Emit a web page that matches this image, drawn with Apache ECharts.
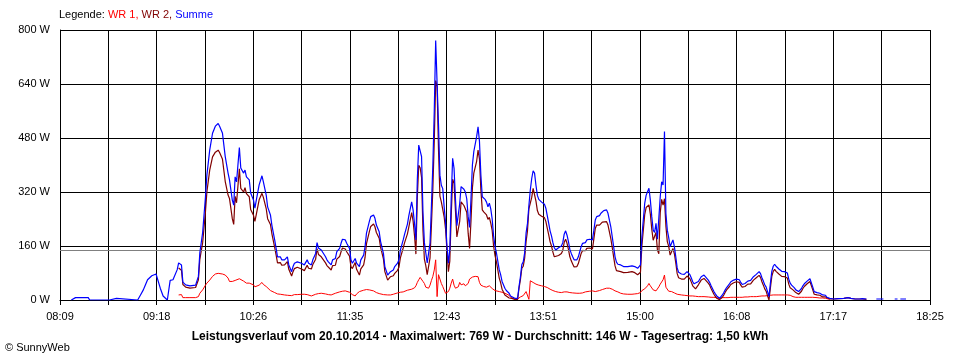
<!DOCTYPE html>
<html><head><meta charset="utf-8">
<script src="https://cdn.jsdelivr.net/npm/echarts@6/dist/echarts.min.js"></script>
<style>html,body{margin:0;padding:0;background:#fff}#c{width:960px;height:360px}</style>
</head><body><div id="c"></div>
<script>
const tickLabels = ['08:09','09:18','10:26','11:35','12:43','13:51','15:00','16:08','17:17','18:25'];
const seriesNames = ['WR 1','WR 2','Summe'];
const legendTitle = 'Legende:';
const footerTitle = 'Leistungsverlauf vom 20.10.2014 - Maximalwert: 769 W - Durchschnitt: 146 W - Tagesertrag: 1,50 kWh';
const copyright = '\u00A9 SunnyWeb';
const averageW = 146;

const earlyTimes = ['08:17','08:20','08:29','08:30','08:44','08:45','08:49','08:50','09:04','09:06',
  '09:08','09:09','09:11','09:14','09:17','09:18','09:20','09:22','09:25','09:26',
  '09:27','09:29','09:30','09:32'];
const earlySumme = [0,7,7,0,0,5,5,0,0,15, 30,40,60,72,77,75,35,12,0,0, 58,60,62,90];

const times = [
 '09:33','09:35','09:36','09:38','09:41','09:45','09:47','09:48','09:50','09:52',
 '09:53','09:55','09:57','09:59','10:01','10:02','10:04','10:06','10:08','10:09',
 '10:11','10:12','10:13','10:14','10:16','10:17','10:19','10:20','10:21','10:23',
 '10:24','10:26','10:27','10:28','10:30','10:32','10:33','10:35','10:36','10:38',
 '10:39','10:41','10:42','10:43','10:45','10:46','10:48','10:50','10:51','10:53',
 '10:54','10:55','10:57','10:58','11:00','11:02','11:04','11:05','11:07','11:08',
 '11:10','11:11','11:12','11:14','11:15','11:17','11:18','11:19','11:21','11:22',
 '11:24','11:25','11:27','11:28','11:29','11:31','11:32','11:34','11:35','11:36',
 '11:38','11:39','11:41','11:42','11:44','11:45','11:46','11:48','11:49','11:51',
 '11:52','11:53','11:55','11:56','11:58','11:59','12:01','12:02','12:03','12:05',
 '12:06','12:08','12:09','12:10','12:12','12:13','12:15','12:16','12:18','12:19',
 '12:20','12:21','12:22','12:23','12:24','12:25','12:26','12:27','12:28','12:29',
 '12:30','12:31','12:32','12:33','12:34','12:35','12:36','12:37','12:38','12:39',
 '12:40','12:41','12:42','12:43','12:44','12:45','12:46','12:47','12:48','12:49',
 '12:50','12:51','12:52','12:53','12:54','12:55','12:56','12:57','12:58','12:59',
 '13:00','13:01','13:02','13:03','13:04','13:05','13:06','13:07','13:08','13:09',
 '13:10','13:11','13:12','13:13','13:14','13:15','13:16','13:17','13:18','13:20',
 '13:21','13:22','13:24','13:25','13:27','13:28','13:29','13:31','13:33','13:34',
 '13:35','13:36','13:37','13:38','13:39','13:40','13:41','13:42','13:43','13:44',
 '13:45','13:46','13:47','13:48','13:49','13:50','13:51','13:52','13:53','13:54',
 '13:55','13:56','13:57','13:58','13:59','14:00','14:02','14:04','14:05','14:06',
 '14:07','14:08','14:09','14:10','14:11','14:12','14:13','14:15','14:16','14:17',
 '14:18','14:19','14:21','14:22','14:24','14:26','14:27','14:28','14:29','14:31',
 '14:32','14:33','14:34','14:36','14:37','14:38','14:39','14:40','14:41','14:42',
 '14:43','14:44','14:46','14:48','14:51','14:54','14:56','14:58','15:00','15:01',
 '15:02','15:03','15:04','15:05','15:06','15:07','15:08','15:09','15:10','15:11',
 '15:12','15:13','15:14','15:15','15:16','15:17','15:18','15:19','15:20','15:21',
 '15:22','15:23','15:24','15:25','15:26','15:27','15:29','15:31','15:32','15:33',
 '15:35','15:36','15:37','15:38','15:39','15:41','15:43','15:45','15:46','15:48',
 '15:49','15:50','15:52','15:53','15:54','15:56','15:57','15:58','15:59','16:00',
 '16:01','16:02','16:03','16:04','16:05','16:06','16:08','16:09','16:10','16:11',
 '16:12','16:13','16:14','16:16','16:18','16:20','16:22','16:24','16:25','16:26',
 '16:27','16:28','16:29','16:30','16:31','16:32','16:33','16:34','16:35','16:36',
 '16:38','16:40','16:42','16:44','16:45','16:46','16:47','16:48','16:49','16:50',
 '16:52','16:53','16:54','16:55','16:56','16:58','16:59','17:00','17:01','17:02',
 '17:03','17:05','17:06','17:07','17:08','17:09','17:11','17:12','17:14'];

const summe = [
 110,104,53,45,42,44,70,140,200,306,
 370,444,494,515,523,515,495,425,376,356,
 296,281,365,350,452,391,376,385,365,356,
 317,296,272,296,341,368,350,311,276,252,
 222,178,154,128,128,119,119,128,104,84,
 99,109,113,109,109,104,119,109,104,119,
 138,170,154,148,143,128,119,113,104,119,
 123,143,153,168,180,178,168,153,119,109,
 123,109,99,119,133,158,198,232,247,252,
 242,222,202,173,138,99,74,79,84,89,
 99,109,119,148,178,195,225,250,291,267,
 227,178,356,459,459,425,260,170,140,110,
 105,169,280,400,560,769,642,520,370,340,
 330,276,230,160,109,150,300,420,390,300,
 220,225,285,336,336,328,320,300,247,215,
 300,400,440,444,484,513,470,370,306,301,
 298,290,276,287,270,240,190,160,140,90,
 75,55,35,28,20,12,10,5,5,40,
 69,105,113,140,198,227,280,326,360,383,
 376,340,310,298,293,290,286,284,272,250,
 228,205,190,170,155,148,155,160,170,195,
 205,192,173,150,138,128,119,119,128,143,
 158,168,170,178,180,178,207,237,247,250,
 257,262,265,267,257,237,217,188,158,128,
 112,106,104,99,99,101,99,94,104,188,
 237,286,310,321,331,296,247,207,200,227,
 180,176,306,350,341,499,257,207,185,158,
 168,178,158,128,95,82,77,76,80,84,
 75,65,54,48,44,55,69,74,70,59,
 52,42,25,18,12,5,8,15,22,30,
 37,42,48,54,58,59,62,64,60,52,
 46,44,49,56,58,69,76,84,78,66,
 56,45,38,25,10,50,85,100,106,100,
 92,85,84,80,62,50,44,40,36,30,
 25,28,34,42,48,56,60,63,60,38,
 25,22,25,20,18,15,14,8,5];

const wr1 = [
 15,16,7,7,7,7,10,20,30,44,
 50,59,70,77,79,78,77,74,65,55,
 55,57,58,62,63,60,56,52,50,50,
 49,45,39,42,44,52,46,40,35,28,
 25,22,20,18,17,16,15,14,13,13,
 15,16,16,17,17,17,16,15,12,14,
 17,18,19,20,19,18,17,16,15,17,
 20,22,24,25,26,27,25,23,20,16,
 12,18,25,27,29,32,31,30,29,27,
 25,22,19,17,16,15,15,15,15,17,
 20,21,22,23,24,25,29,33,32,33,
 36,42,52,60,67,62,55,49,38,35,
 35,44,58,70,89,119,10,75,62,49,
 40,30,20,15,25,35,50,62,44,35,
 33,39,52,45,40,48,42,40,49,62,
 66,68,64,70,73,69,52,44,39,40,
 40,38,37,42,42,34,30,28,27,25,
 24,23,20,18,14,8,5,3,3,6,
 9,11,13,16,25,22,2,57,56,52,
 49,47,45,44,43,42,41,40,39,37,
 34,32,30,28,27,25,23,22,23,24,
 25,24,23,22,22,21,21,20,20,20,
 20,21,24,25,26,27,26,25,25,28,
 30,31,33,35,35,35,35,32,30,27,
 25,24,20,18,17,17,18,19,22,28,
 31,33,36,42,49,42,37,30,28,27,
 32,39,47,52,60,74,38,34,26,25,
 25,25,21,18,17,16,15,14,14,13,
 12,12,12,11,11,10,10,10,9,9,
 8,8,8,7,7,4,5,7,7,7,
 7,7,8,8,8,8,8,8,8,8,
 8,8,9,9,10,10,10,11,11,12,
 12,12,12,13,10,14,15,15,15,15,
 15,15,15,15,15,14,12,10,9,8,
 8,8,8,8,8,8,8,8,8,8,
 8,7,7,6,6,6,5,4,2];

const wr2 = [
 95,88,46,38,35,37,60,120,170,262,
 320,385,424,438,444,437,418,351,311,301,
 241,224,307,288,389,331,320,333,315,306,
 268,251,233,254,297,316,304,271,241,224,
 197,156,134,110,111,103,104,114,91,71,
 84,93,97,92,92,87,103,94,92,105,
 121,152,135,128,124,110,102,97,89,102,
 103,121,129,143,154,151,143,130,99,93,
 111,91,74,92,104,126,167,202,218,225,
 217,200,183,156,122,84,59,64,69,72,
 79,88,97,125,154,170,196,217,259,234,
 191,136,304,399,392,363,205,121,102,75,
 70,125,222,330,471,650,632,445,308,291,
 290,246,210,145,84,115,250,358,346,265,
 187,186,233,291,296,280,278,260,198,153,
 234,332,376,374,411,444,418,326,267,261,
 258,252,239,245,228,206,160,132,113,65,
 51,32,15,10,6,4,5,2,2,34,
 60,94,100,124,173,205,270,269,304,331,
 327,293,265,254,250,248,245,244,233,213,
 194,173,160,142,128,123,132,138,147,171,
 180,168,150,128,116,107,98,99,108,123,
 138,147,146,153,154,151,181,212,222,222,
 227,231,232,232,222,202,182,156,128,101,
 87,82,84,81,82,84,81,75,82,160,
 206,253,274,279,282,254,210,177,172,200,
 148,137,259,298,281,300,219,173,159,133,
 143,153,137,110,78,66,62,62,66,71,
 63,53,42,37,33,45,59,64,61,50,
 44,34,17,11,5,1,3,8,15,23,
 30,35,40,46,50,51,54,56,52,44,
 38,36,40,47,48,59,66,73,67,54,
 44,33,26,12,0,36,70,85,91,85,
 77,70,69,65,47,36,32,30,27,22,
 17,20,26,34,40,48,52,55,52,30,
 17,15,18,14,12,9,9,4,3];

const tailTimes = ['17:17','17:20','17:24','17:27','17:29','17:32','17:35','17:37','17:40','17:41',
  '17:47','17:50','17:52','17:53','18:00','18:02','18:03','18:04','18:08'];
const tailSumme = [3,4,5,7,5,3,3,4,3,null, 3,3,3,null,3,3,null,3,3];
const tailWr2 = [3,4,5,7,5,3,3,3,2,null, null,null,null,null,null,null,null,null,null];

const axisStart = tickLabels[0], axisEnd = tickLabels[tickLabels.length - 1];
function clock(t) { const p = t.split(':').map(Number); return p[0] * 60 + p[1]; }
const span = clock(axisEnd) - clock(axisStart);
const gridDivisions = (tickLabels.length - 1) * 2;
const step = span / gridDivisions;
function pairs(ts, vs) { return ts.map((t, i) => [clock(t) - clock(axisStart), vs[i]]); }

const colors = ['#ff0000', '#800000', '#0000ff'];
const font = 'Liberation Sans';

const chart = echarts.init(document.getElementById('c'), null, { renderer: 'canvas' });
chart.setOption({
  animation: false,
  backgroundColor: '#ffffff',
  textStyle: { fontFamily: font },
  title: [
    {
      text: '{k|' + legendTitle + '} {a|' + seriesNames[0] + ',} {b|' + seriesNames[1] + ',} {c|' + seriesNames[2] + '}',
      left: 59, top: 9, padding: 0,
      textStyle: {
        fontSize: 11, fontFamily: font, fontWeight: 'normal',
        rich: {
          k: { color: '#000', fontSize: 11, fontFamily: font },
          a: { color: colors[0], fontSize: 11, fontFamily: font },
          b: { color: colors[1], fontSize: 11, fontFamily: font },
          c: { color: colors[2], fontSize: 11, fontFamily: font }
        }
      }
    },
    {
      text: footerTitle, left: 'center', top: 331, padding: 0,
      textStyle: { fontSize: 12, fontWeight: 'bold', color: '#000', fontFamily: font }
    },
    {
      text: copyright, left: 5, top: 342, padding: 0,
      textStyle: { fontSize: 11, fontWeight: 'normal', color: '#000', fontFamily: font }
    }
  ],
  grid: { left: 60, right: 30, top: 30, bottom: 60, containLabel: false },
  xAxis: {
    type: 'value', min: 0, max: span, interval: step,
    axisLine: { show: true, lineStyle: { color: '#000', width: 1 } },
    axisTick: { show: true, length: 5, lineStyle: { color: '#000', width: 1 } },
    splitLine: { show: true, lineStyle: { color: '#000', width: 1 } },
    axisLabel: {
      color: '#000', fontSize: 11, fontFamily: font, margin: 11,
      showMinLabel: true, showMaxLabel: true, hideOverlap: false,
      formatter: function (v) {
        const k = Math.round(v / step);
        return k % 2 === 0 ? (tickLabels[k / 2] || '') : '';
      }
    }
  },
  yAxis: {
    type: 'value', min: 0, max: 800, interval: 160,
    axisLine: { show: true, lineStyle: { color: '#000', width: 1 } },
    axisTick: { show: false },
    splitLine: { show: true, lineStyle: { color: '#000', width: 1 } },
    axisLabel: { color: '#000', fontSize: 11, fontFamily: font, margin: 10, formatter: '{value} W' }
  },
  series: [
    {
      name: seriesNames[0], type: 'line', showSymbol: false, symbol: 'none', connectNulls: false,
      lineStyle: { color: colors[0], width: 1 }, itemStyle: { color: colors[0] },
      data: pairs(times, wr1), z: 3,
      markLine: {
        silent: true, symbol: 'none', label: { show: false },
        lineStyle: { color: '#808080', type: 'solid', width: 1 },
        data: [{ yAxis: averageW }]
      }
    },
    {
      name: seriesNames[1], type: 'line', showSymbol: false, symbol: 'none', connectNulls: false,
      lineStyle: { color: colors[1], width: 1.2 }, itemStyle: { color: colors[1] },
      data: pairs(times.concat(tailTimes), wr2.concat(tailWr2)), z: 4
    },
    {
      name: seriesNames[2], type: 'line', showSymbol: false, symbol: 'none', connectNulls: false,
      lineStyle: { color: colors[2], width: 1.2 }, itemStyle: { color: colors[2] },
      data: pairs(earlyTimes.concat(times, tailTimes), earlySumme.concat(summe, tailSumme)), z: 5
    }
  ]
});
</script>
</body></html>
